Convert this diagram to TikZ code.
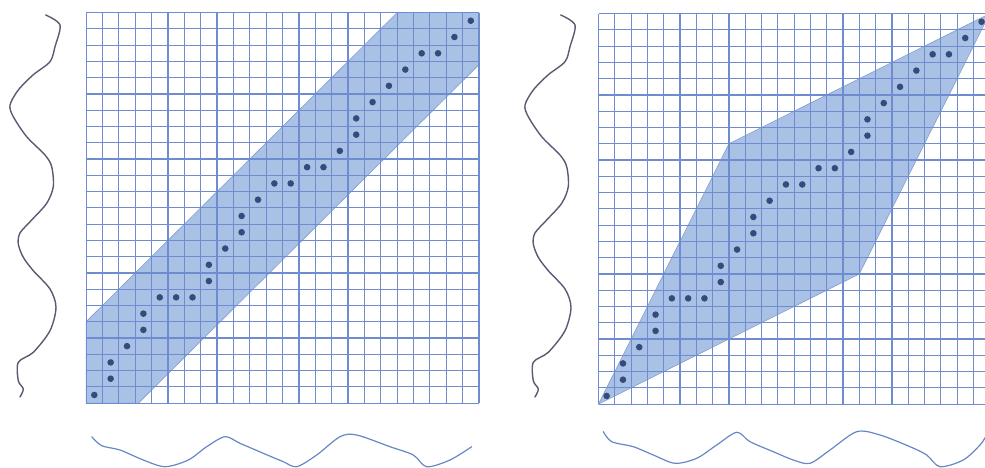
\documentclass[tikz,border=0pt]{standalone}
\begin{document}
\begin{tikzpicture}[x=1pt,y=-1pt]
\definecolor{gridblue}{RGB}{112,140,208}
\definecolor{bandfill}{RGB}{168,193,228}
\definecolor{bandedge}{RGB}{130,158,210}
\definecolor{dotcol}{RGB}{52,76,125}
\definecolor{wavegray}{RGB}{92,90,115}
\definecolor{waveblue}{RGB}{105,135,198}
\tikzset{
  gridline/.style={draw=gridblue,line width=1.2pt},
  region/.style={fill=bandfill,draw=bandedge,line width=0.6pt},
  dtwdot/.style={fill=dotcol},
  vwave/.style={draw=wavegray,line width=1.4pt,line join=round,line cap=round},
  hwave/.style={draw=waveblue,line width=1.2pt,line join=round,line cap=round}
}
\useasboundingbox (0,0) rectangle (985,468);
\clip (0,0) rectangle (985,468);
\fill[white] (0,0) rectangle (985,468);

% ---------- left panel ----------
\begin{scope}[shift={(86.1,403.1)},x=16.37pt,y=16.27pt]
  \fill[region] (0,0) -- (3.2,0) -- (24,20.8) -- (24,24) -- (19,24) -- (0,5) -- cycle;
  \foreach \i in {0,...,24} {
    \draw[gridline] (\i,0) -- (\i,24);
    \draw[gridline] (0,\i) -- (24,\i);
  }
  \foreach \a/\b in {0/0,1/1,1/2,2/3,3/4,3/5,4/6,5/6,6/6,7/7,7/8,8/9,9/10,9/11,10/12,11/13,12/13,13/14,14/14,15/15,16/16,16/17,17/18,18/19,19/20,20/21,21/21,22/22,23/23}
    \fill[dtwdot] (\a+0.5,\b+0.5) circle[radius=3.3pt];
\end{scope}

% ---------- right panel ----------
\begin{scope}[shift={(598.5,404.1)},x=16.3pt,y=16.27pt]
  \fill[region] (0,0) -- (8,16) -- (24,24) -- (16,8) -- cycle;
  \foreach \i in {0,...,24} {
    \draw[gridline] (\i,0) -- (\i,24);
    \draw[gridline] (0,\i) -- (24,\i);
  }
  \foreach \a/\b in {0/0,1/1,1/2,2/3,3/4,3/5,4/6,5/6,6/6,7/7,7/8,8/9,9/10,9/11,10/12,11/13,12/13,13/14,14/14,15/15,16/16,16/17,17/18,18/19,19/20,20/21,21/21,22/22,23/23}
    \fill[dtwdot] (\a+0.5,\b+0.5) circle[radius=3.3pt];
\end{scope}

% ---------- vertical signals ----------
\foreach \dx in {0,515} {
\begin{scope}[xshift=\dx]
\draw[vwave] plot[smooth,tension=0.5] coordinates {
 (45.7,15) (60,25) (55,46.7) (50,61.7) (33,75) (18.3,90) (10,105) (13.3,116.7)
 (26.7,136.7) (45,155) (51.7,166.7) (53.3,186.7) (46.7,203.3) (31.7,220) (20,233)
 (18.3,244) (23.3,257.3) (33.3,270.7) (50,289) (56,307.3) (50,330.7) (33.3,352.3)
 (18.3,362.3) (18.3,380.7) (23.3,389) (20,397)};
\end{scope}
}

% ---------- horizontal signals ----------
\draw[hwave] plot[smooth,tension=0.5] coordinates {
 (91.7,436.7) (101.7,445.7) (120,450) (143.3,460) (165,466.7) (188.3,460) (206.7,446.7)
 (225,436.7) (240,443.3) (263.3,453.3) (283.3,461.7) (296.7,466.7) (316.7,455)
 (340,436.7) (356.7,435) (390,446.7) (413.3,455) (426.7,466.7) (450,460) (471.7,446.7)};
\draw[hwave] plot[smooth,tension=0.5] coordinates {
 (603.3,431.7) (611.7,441.7) (633.3,446.7) (653.3,455) (675,463.3) (696.7,458.3)
 (716.7,445) (736.7,432.3) (750,441.7) (773.3,451.7) (793.3,460) (810,463.3)
 (830,450) (856.7,431.7) (880,435) (910,446.7) (926.7,455) (940,466.7) (963.3,460) (980,445) (986,436)};
\end{tikzpicture}
\end{document}
